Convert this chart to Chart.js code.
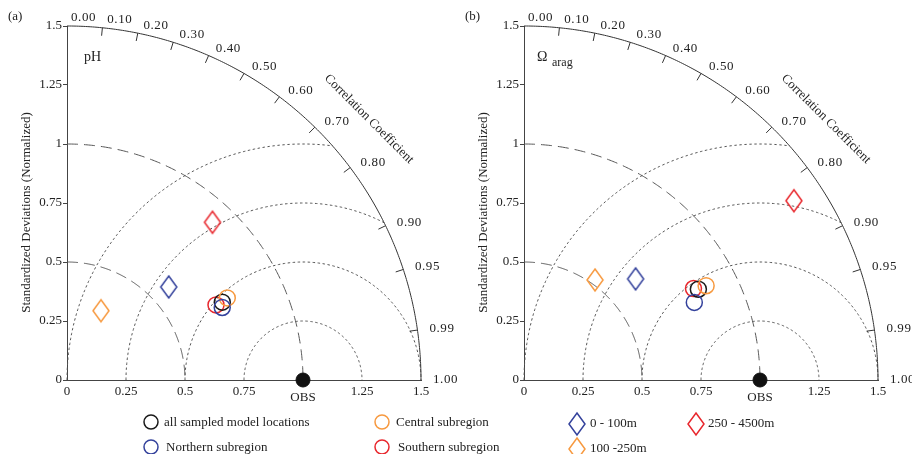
<!DOCTYPE html>
<html>
<head>
<meta charset="utf-8">
<title>Taylor diagrams: pH and aragonite saturation</title>
<script src="https://cdn.jsdelivr.net/npm/chart.js@4.4.1/dist/chart.umd.min.js"></script>
<style>
  html, body { margin: 0; padding: 0; background: #ffffff; }
  #wrap { position: relative; width: 912px; height: 454px; overflow: hidden; }
  #wrap canvas { position: absolute; left: 0; top: 0; }
</style>
</head>
<body>
<div id="wrap">
  <canvas id="panelA" width="912" height="454"></canvas>
  <canvas id="panelB" width="912" height="454"></canvas>
</div>
<script>
// ---- data -------------------------------------------------------------
const seriesNames  = ['all sampled model locations', 'Central subregion', 'Northern subregion',
                      'Southern subregion', '0 - 100m', '100 -250m', '250 - 4500m'];
const seriesColors = ['#1a1a1a', '#f7993f', '#34429c', '#e8272d', '#34429c', '#f7993f', '#e8272d'];
const seriesShapes = ['circle', 'circle', 'circle', 'circle', 'diamond', 'diamond', 'diamond'];

// Normalized standard deviation and correlation with observations, pH
const phStd  = [0.736, 0.763, 0.726, 0.707, 0.584, 0.327, 0.909];
const phCorr = [0.894, 0.890, 0.906, 0.893, 0.738, 0.440, 0.678];

// Normalized standard deviation and correlation with observations, Omega aragonite
const omegaStd  = [0.833, 0.869, 0.793, 0.816, 0.638, 0.520, 1.373];
const omegaCorr = [0.887, 0.888, 0.910, 0.880, 0.741, 0.579, 0.833];

// Reference (observations)
const obsLabel = 'OBS';
const obsStd = 1.0;
const obsCorr = 1.0;

// Axis ticks
const stdTickValues = [0, 0.25, 0.5, 0.75, 1, 1.25, 1.5];
const yTickLabels   = ['0', '0.25', '0.5', '0.75', '1', '1.25', '1.5'];
const xTickLabels   = ['0', '0.25', '0.5', '0.75', '', '1.25', '1.5'];
const corrTickValues = [0, 0.1, 0.2, 0.3, 0.4, 0.5, 0.6, 0.7, 0.8, 0.9, 0.95, 0.99, 1];
const corrTickLabels = ['0.00', '0.10', '0.20', '0.30', '0.40', '0.50', '0.60', '0.70',
                        '0.80', '0.90', '0.95', '0.99', '1.00'];
const stdArcRadii = [0.5, 1.0];              // dashed arcs about the origin
const rmsArcRadii = [0.25, 0.5, 0.75, 1.0];  // dotted arcs about OBS
const maxStd = 1.5;

const yTitle = 'Standardized Deviations (Normalized)';
const corrTitle = 'Correlation Coefficient';

// ---- helpers ----------------------------------------------------------
const W = 912, H = 454;
const Y_AXIS_W = 30, X_AXIS_H = 30;
const SERIF = '"Liberation Serif", "Times New Roman", Times, serif';
Chart.defaults.font.family = SERIF;
Chart.defaults.font.size = 13;
Chart.defaults.color = '#222';

function toXY(std, corr) {
  return { x: std * corr, y: std * Math.sqrt(Math.max(0, 1 - corr * corr)) };
}

const diamondCache = {};
function diamondImage(color) {
  if (diamondCache[color]) return diamondCache[color];
  const c = document.createElement('canvas');
  c.width = 20; c.height = 26;
  const g = c.getContext('2d');
  g.strokeStyle = color;
  g.lineWidth = 1.5;
  g.beginPath();
  g.moveTo(10, 2); g.lineTo(18, 13); g.lineTo(10, 24); g.lineTo(2, 13);
  g.closePath();
  g.stroke();
  diamondCache[color] = c;
  return c;
}

// series drawn first to last
const drawOrder = [5, 4, 6, 2, 1, 0, 3];

function buildDatasets(stds, corrs) {
  const ds = drawOrder.map(i => ({
    label: seriesNames[i],
    data: [toXY(stds[i], corrs[i])],
    pointStyle: seriesShapes[i] === 'diamond' ? diamondImage(seriesColors[i]) : 'circle',
    pointRadius: 8,
    borderColor: seriesColors[i],
    backgroundColor: 'rgba(0,0,0,0)',
    borderWidth: 1.5,
    clip: false
  }));
  ds.push({
    label: obsLabel,
    data: [toXY(obsStd, obsCorr)],
    pointStyle: 'circle',
    pointRadius: 7,
    borderColor: '#111',
    backgroundColor: '#111',
    borderWidth: 1,
    clip: false
  });
  return ds;
}

// ---- polar grid of the Taylor diagram ----------------------------------
const taylorGrid = {
  id: 'taylorGrid',
  beforeDatasetsDraw(chart) {
    const { ctx } = chart;
    const xs = chart.scales.x, ys = chart.scales.y;
    const P = (a, b) => [xs.getPixelForValue(a), ys.getPixelForValue(b)];
    const unit = xs.getPixelForValue(1) - xs.getPixelForValue(0);

    function arc(cx, cy, r, t0, t1) {
      const n = 240;
      ctx.beginPath();
      for (let k = 0; k <= n; k++) {
        const t = t0 + (t1 - t0) * k / n;
        const p = P(cx + r * Math.cos(t), cy + r * Math.sin(t));
        if (k === 0) ctx.moveTo(p[0], p[1]); else ctx.lineTo(p[0], p[1]);
      }
      ctx.stroke();
    }

    ctx.save();
    ctx.lineWidth = 1;

    // centred RMS difference arcs around the reference point
    ctx.strokeStyle = '#555';
    ctx.setLineDash([2.5, 2.5]);
    rmsArcRadii.forEach(rho => {
      const c = (maxStd * maxStd - 1 - rho * rho) / (2 * rho);
      const t0 = Math.acos(Math.min(1, Math.max(-1, c)));
      arc(obsStd, 0, rho, Math.PI, t0);
    });

    // standard deviation arcs about the origin
    ctx.setLineDash([11, 6]);
    stdArcRadii.forEach(r => arc(0, 0, r, Math.PI / 2, 0));

    // outer boundary
    ctx.setLineDash([]);
    ctx.strokeStyle = '#333';
    arc(0, 0, maxStd, Math.PI / 2, 0);

    // correlation ticks and labels
    const tickLen = 8 / unit;
    const labelR = maxStd + 8 / unit;
    ctx.font = '13px ' + SERIF;
    if ('letterSpacing' in ctx) ctx.letterSpacing = '0.6px';
    ctx.fillStyle = '#222';
    ctx.textAlign = 'left';
    ctx.textBaseline = 'middle';
    corrTickValues.forEach((r, i) => {
      const s = Math.sqrt(1 - r * r);
      if (r > 0 && r < 1) {
        const a = P((maxStd - tickLen) * r, (maxStd - tickLen) * s);
        const b = P(maxStd * r, maxStd * s);
        ctx.beginPath(); ctx.moveTo(a[0], a[1]); ctx.lineTo(b[0], b[1]); ctx.stroke();
      }
      const q = P(labelR * r, labelR * s);
      ctx.fillText(corrTickLabels[i], q[0] + 4, q[1]);
    });
    if ('letterSpacing' in ctx) ctx.letterSpacing = '0px';
    ctx.restore();
  }
};

// ---- titles, panel labels and legend -----------------------------------
const panelText = {
  id: 'panelText',
  afterDraw(chart, args, opts) {
    const { ctx } = chart;
    const xs = chart.scales.x, ys = chart.scales.y;
    const ox = xs.getPixelForValue(0), oy = ys.getPixelForValue(0);
    ctx.save();
    ctx.fillStyle = '#222';

    // panel letter
    ctx.font = '13px ' + SERIF;
    ctx.textAlign = 'left';
    ctx.textBaseline = 'alphabetic';
    ctx.fillText(opts.letter, ox - 59, 20);

    // variable name
    ctx.font = '14px ' + SERIF;
    ctx.fillText(opts.varName, ox + opts.varDx, 61);
    if (opts.varSub) {
      ctx.font = '12px ' + SERIF;
      ctx.fillText(opts.varSub, ox + opts.varDx + 15, 66);
    }

    // y-axis title
    ctx.font = '13px ' + SERIF;
    ctx.save();
    ctx.translate(ox - 40, 212.5);
    ctx.rotate(-Math.PI / 2);
    ctx.textAlign = 'center';
    ctx.textBaseline = 'middle';
    ctx.fillText(yTitle, 0, 0);
    ctx.restore();

    // correlation title along the arc
    ctx.save();
    ctx.translate(ox + 302, oy - 261);
    ctx.rotate(Math.PI / 4);
    ctx.textAlign = 'center';
    ctx.textBaseline = 'middle';
    ctx.fillText(corrTitle, 0, 0);
    ctx.restore();

    // reference label below the filled point
    ctx.textAlign = 'center';
    ctx.textBaseline = 'alphabetic';
    ctx.fillText(obsLabel, xs.getPixelForValue(obsStd), oy + 21);

    // legend
    ctx.textAlign = 'left';
    opts.legend.forEach(item => {
      const color = seriesColors[item.i];
      if (seriesShapes[item.i] === 'diamond') {
        const img = diamondImage(color);
        ctx.drawImage(img, item.x - img.width / 2, item.y - img.height / 2);
      } else {
        ctx.strokeStyle = color;
        ctx.lineWidth = 1.5;
        ctx.beginPath();
        ctx.arc(item.x, item.y, 7, 0, Math.PI * 2);
        ctx.stroke();
      }
      ctx.fillStyle = '#222';
      ctx.fillText(seriesNames[item.i], item.tx, item.ty);
    });
    ctx.restore();
  }
};

// ---- chart factory -----------------------------------------------------
function panelConfig(stds, corrs, frame, textOpts) {
  const tickFont = { family: SERIF, size: 13 };
  return {
    type: 'scatter',
    data: { datasets: buildDatasets(stds, corrs) },
    options: {
      responsive: false,
      animation: false,
      events: [],
      layout: {
        padding: {
          left: frame.left - Y_AXIS_W,
          right: W - frame.right,
          top: frame.top,
          bottom: H - frame.bottom - X_AXIS_H
        }
      },
      plugins: {
        legend: { display: false },
        tooltip: { enabled: false },
        panelText: textOpts
      },
      scales: {
        x: {
          type: 'linear', min: 0, max: maxStd,
          afterFit: s => { s.height = X_AXIS_H; },
          afterBuildTicks: s => { s.ticks = stdTickValues.map(v => ({ value: v })); },
          ticks: {
            callback: (v, i) => xTickLabels[i],
            font: tickFont, color: '#222', padding: 4,
            autoSkip: false, maxRotation: 0
          },
          grid: { drawOnChartArea: false, drawTicks: false },
          border: { display: true, color: '#444', width: 1 }
        },
        y: {
          type: 'linear', min: 0, max: maxStd,
          afterFit: s => { s.width = Y_AXIS_W; },
          afterBuildTicks: s => { s.ticks = stdTickValues.map(v => ({ value: v })); },
          ticks: {
            callback: (v, i) => yTickLabels[i],
            font: tickFont, color: '#222', padding: 1,
            autoSkip: false
          },
          grid: { drawOnChartArea: false, drawTicks: true, tickLength: 4, tickColor: '#444' },
          border: { display: true, color: '#444', width: 1 }
        }
      }
    },
    plugins: [taylorGrid, panelText]
  };
}

new Chart(document.getElementById('panelA'), panelConfig(phStd, phCorr,
  { left: 67, right: 421, top: 26, bottom: 380 },
  {
    letter: '(a)', varName: 'pH', varDx: 17,
    legend: [
      { i: 0, x: 151, y: 422, tx: 164, ty: 426 },
      { i: 1, x: 382, y: 422, tx: 396, ty: 426 },
      { i: 2, x: 151, y: 447, tx: 166, ty: 451 },
      { i: 3, x: 382, y: 447, tx: 398, ty: 451 }
    ]
  }));

new Chart(document.getElementById('panelB'), panelConfig(omegaStd, omegaCorr,
  { left: 524, right: 878, top: 26, bottom: 380 },
  {
    letter: '(b)', varName: '\u03A9', varSub: 'arag', varDx: 13,
    legend: [
      { i: 4, x: 577, y: 424, tx: 590, ty: 427 },
      { i: 6, x: 696, y: 424, tx: 708, ty: 427 },
      { i: 5, x: 577, y: 449, tx: 590, ty: 452 }
    ]
  }));
</script>
</body>
</html>
